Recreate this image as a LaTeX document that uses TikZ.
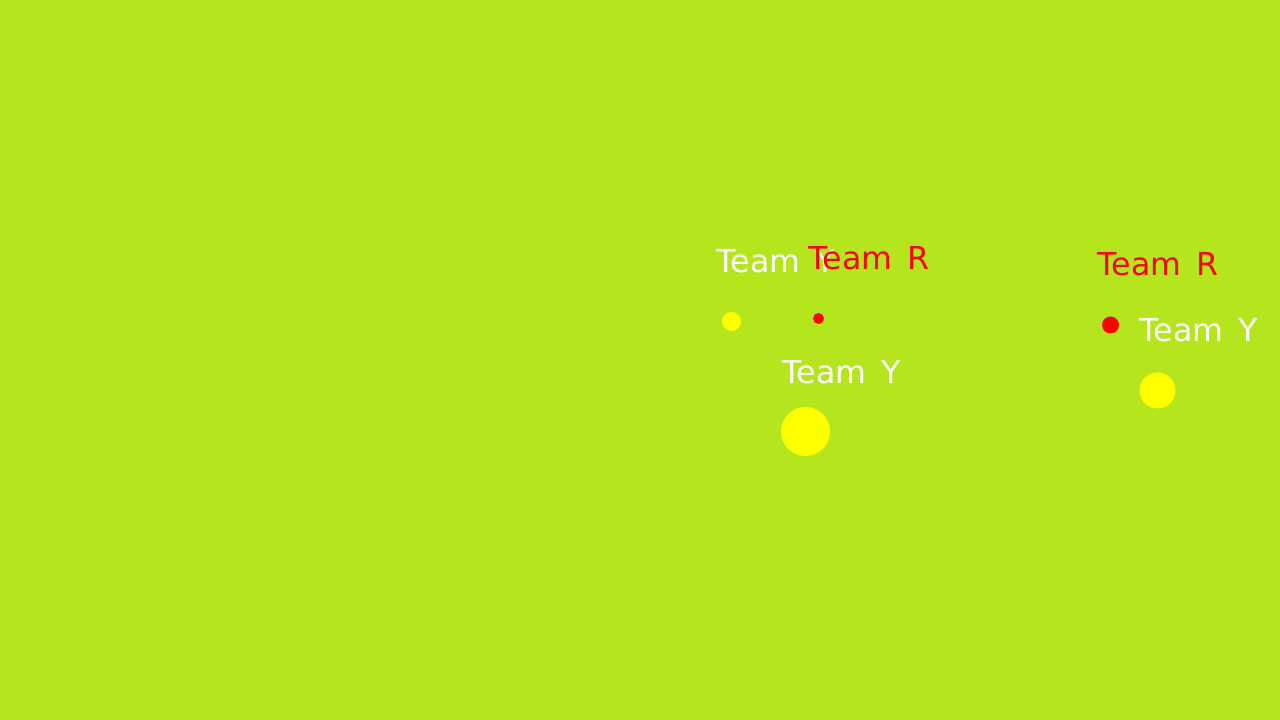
\documentclass[tikz,border=0pt]{standalone}
\usepackage{fontspec}
\setmainfont{DejaVu Sans}[WordSpace=1.5]
\usetikzlibrary{positioning}
\definecolor{pitch}{RGB}{181,230,29}
\definecolor{teamr}{RGB}{255,0,0}
\definecolor{teamy}{RGB}{255,255,0}
\tikzset{lbl/.style={anchor=base west,inner sep=0pt,font=\fontsize{9}{9}\selectfont}}

\begin{document}
\begin{tikzpicture}[scale=1]
  \fill[pitch] (0,0) rectangle (12.8,7.2);
  \useasboundingbox (0,0) rectangle (12.8,7.2);
  % left group
  \node[lbl,white] (ya) at (7.16,4.47) {Team Y};
  \node[lbl,teamr] (ra) at (8.08,4.50) {Team R};
  \fill[teamy] (7.315,3.985) circle (0.095);
  \fill[teamr] (8.185,4.015) circle (0.055);
  % middle
  \node[lbl,white] (yb) at (7.82,3.36) {Team Y};
  \fill[teamy] (8.055,2.885) circle (0.245);
  % right group
  \node[lbl,teamr] (rc) at (10.97,4.44) {Team R};
  \node[lbl,white] (yc) at (11.39,3.78) {Team Y};
  \fill[teamr] (11.105,3.95) circle (0.085);
  \fill[teamy] (11.575,3.295) circle (0.18);
\end{tikzpicture}
\end{document}
